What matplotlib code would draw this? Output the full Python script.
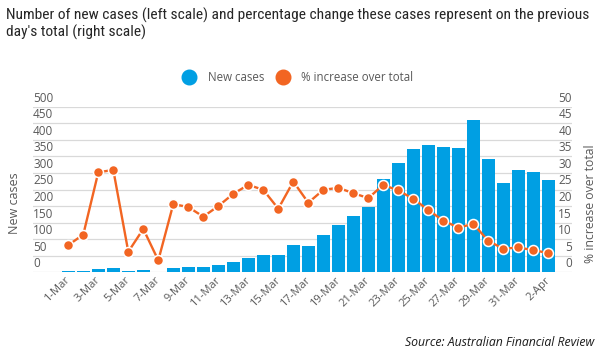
import matplotlib
matplotlib.use('Agg')
import matplotlib.pyplot as plt
from matplotlib import font_manager
from matplotlib.lines import Line2D
from matplotlib.transforms import ScaledTranslation, blended_transform_factory

# data
days = [f'{d}-Mar' for d in range(1, 32)] + ['1-Apr', '2-Apr']
new_cases = [3, 3, 10, 12, 3, 6, 2, 12, 15, 15, 21, 32, 44, 51, 51, 83, 80,
             113, 143, 170, 198, 281, 330, 372, 384, 378, 375, 460, 342, 270,
             309, 303, 279]
pct_increase = [8.2, 11.4, 30.2, 30.9, 6.2, 13.1, 3.6, 20.6, 19.7, 16.8, 20.0,
                23.7, 26.4, 24.9, 19.2, 27.4, 21.0, 24.9, 25.5, 23.9, 22.4,
                26.4, 24.7, 22.2, 18.8, 15.6, 13.5, 14.6, 9.5, 7.1, 7.5, 6.7, 5.8]
left_ticks = list(range(0, 501, 50))
right_ticks = list(range(0, 51, 5))

title_lines = ["Number of new cases (left scale) and percentage change these cases represent on the previous",
               "day's total (right scale)"]
source = "Source: Australian Financial Review"

BLUE = '#009fe3'
ORANGE = '#f26522'
GRID = '#d9d9d9'
TXT = '#595959'

names = {f.name for f in font_manager.fontManager.ttflist}
base_font = 'Open Sans' if 'Open Sans' in names else 'DejaVu Sans'
title_font = base_font
for cand in ['Liberation Sans Narrow', 'Roboto Condensed', 'Open Sans Condensed']:
    if cand in names:
        title_font = cand
        break
plt.rcParams['font.family'] = [base_font, 'DejaVu Sans']

W, H, DPI = 600, 351, 100
fig = plt.figure(figsize=(W / DPI, H / DPI), dpi=DPI)

# axes spans the gridline area (x 33..572 px, y 106.7..272.3 px)
ax = fig.add_axes([33 / W, (H - 272.3) / H, 539 / W, 165.6 / H])
ax2 = ax.twinx()

x = list(range(len(days)))
ax.bar(x, new_cases, width=0.887, color=BLUE, zorder=2)
ax2.plot(x, pct_increase, color=ORANGE, lw=1.7, marker='o', ms=7.2,
         mfc=ORANGE, mec='white', mew=1.1, zorder=3)

ax.set_xlim(-2.353, 33.58)
ax.set_ylim(0, 500)
ax2.set_ylim(0, 50)

ax.set_yticks(left_ticks)
ax.tick_params(axis='y', length=0, labelleft=False)
ax.grid(axis='y', color=GRID, lw=0.9, zorder=0)
ax.set_axisbelow(True)
ax2.set_yticks([])
for a in (ax, ax2):
    for s in a.spines.values():
        s.set_visible(False)

ax.set_xticks(x[::2])
ax.set_xticklabels(days[::2], rotation=45, rotation_mode='anchor',
                   ha='right', va='center', fontsize=8, color=TXT)
ax.tick_params(axis='x', length=0, pad=4.5)

# y tick labels sit inside the grid area, a little above their gridlines
up = ScaledTranslation(0, 8.5 / DPI, fig.dpi_scale_trans)
tl = blended_transform_factory(ax.transAxes, ax.transData) + up
for v in left_ticks:
    ax.text(0, v, str(v), transform=tl, ha='left', va='center',
            fontsize=8.5, color=TXT)
tr = blended_transform_factory(ax2.transAxes, ax2.transData) + up
for v in right_ticks:
    ax2.text(1, v, str(v), transform=tr, ha='right', va='center',
             fontsize=8.5, color=TXT)

fig.text(14.3 / W, 1 - 203.6 / H, 'New cases', rotation=90, ha='center',
         va='center', fontsize=9, color=TXT)
fig.text(591 / W, 1 - 204 / H, '% increase over total', rotation=90,
         ha='center', va='center', fontsize=8.8, color=TXT)

handles = [Line2D([], [], ls='', marker='o', ms=10.5, color=BLUE),
           Line2D([], [], ls='', marker='o', ms=10.5, color=ORANGE)]
fig.legend(handles, ['New cases', '% increase over total'], ncol=2,
           loc='center', bbox_to_anchor=(297.5 / W, 1 - 77.3 / H),
           frameon=False, fontsize=8.3, handlelength=1.3, handletextpad=0.95,
           columnspacing=0.95, labelcolor=TXT)

# title, sized so that its first line spans the same width as the reference
t1 = fig.text(6 / W, 1 - 19.5 / H, title_lines[0], ha='left', va='baseline',
              fontsize=10, family=[title_font, 'DejaVu Sans'], color='#262626')
r = fig.canvas.get_renderer()
for _ in range(3):
    wpx = t1.get_window_extent(r).width
    t1.set_fontsize(t1.get_fontsize() * 582 / wpx)
fig.text(6 / W, 1 - 36.5 / H, title_lines[1], ha='left', va='baseline',
         fontsize=t1.get_fontsize(), family=[title_font, 'DejaVu Sans'],
         color='#262626')

fig.text(594 / W, 1 - 342.7 / H, source, ha='right', va='center',
         fontsize=8.8, style='italic', color='#1a1a1a')

fig.savefig('out.png', dpi=DPI)
